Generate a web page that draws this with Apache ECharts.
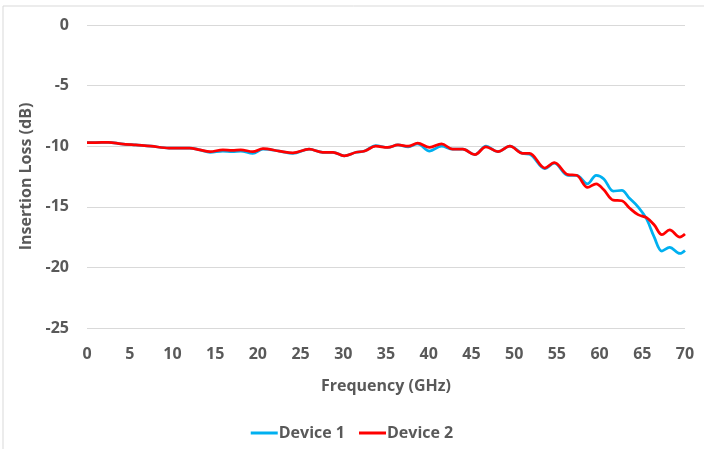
<!DOCTYPE html>
<html>
<head>
<meta charset="utf-8">
<script src="https://cdn.jsdelivr.net/npm/echarts@6/dist/echarts.min.js"></script>
<style>html,body{margin:0;padding:0;background:#fff;}#c{width:704px;height:449px;}</style>
</head>
<body>
<div id="c"></div>
<script>
const freq = [0,1,2.5,4,5.7,7.5,9.6,12,13.2,14.4,15.9,17,18,19.4,20.6,22.5,24.1,26,27.6,28.8,30.1,31.5,32.5,33.8,35.2,36.4,37.6,38.7,40.1,41.5,42.8,44,45.4,46.7,48.1,49.5,51,51.8,53.6,54.7,56.3,57.3,58.6,59.6,60.5,61.6,62.6,63.5,64.5,65.5,66.4,67.3,68.2,69.4,70];
const device1 = [-9.7,-9.7,-9.68,-9.8,-9.9,-10.0,-10.15,-10.15,-10.3,-10.5,-10.4,-10.45,-10.4,-10.6,-10.25,-10.4,-10.6,-10.25,-10.5,-10.5,-10.8,-10.5,-10.4,-9.95,-10.1,-9.9,-10.05,-9.8,-10.4,-10.0,-10.25,-10.25,-10.7,-10.0,-10.45,-10.0,-10.6,-10.65,-11.85,-11.4,-12.4,-12.4,-13.1,-12.4,-12.7,-13.7,-13.65,-14.3,-15.0,-16.0,-17.5,-18.65,-18.35,-18.85,-18.6];
const device2 = [-9.7,-9.7,-9.68,-9.8,-9.9,-10.0,-10.15,-10.15,-10.3,-10.45,-10.3,-10.35,-10.3,-10.45,-10.2,-10.4,-10.55,-10.25,-10.5,-10.5,-10.8,-10.5,-10.4,-10.0,-10.1,-9.9,-10.0,-9.75,-10.1,-9.8,-10.25,-10.25,-10.7,-10.05,-10.45,-10.0,-10.6,-10.6,-11.8,-11.35,-12.35,-12.4,-13.4,-13.1,-13.6,-14.45,-14.5,-15.1,-15.65,-15.9,-16.5,-17.3,-16.9,-17.5,-17.25];
const seriesNames = ['Device 1','Device 2'];
const xTitle = 'Frequency (GHz)';
const yTitle = 'Insertion Loss (dB)';

const font = '"Open Sans", sans-serif';
const txt = {color:'#595959', fontWeight:'bold', fontSize:16, fontFamily:font};
const chart = echarts.init(document.getElementById('c'));
const pairs = a => freq.map((f,i)=>[f,a[i]]);
chart.setOption({
  animation:false,
  grid:{left:87, right:19, top:25, bottom:121},
  graphic:[
    {type:'line', shape:{x1:3,y1:6,x2:704,y2:6}, style:{stroke:'#d9d9d9', lineWidth:1}},
    {type:'line', shape:{x1:3,y1:6,x2:3,y2:449}, style:{stroke:'#d9d9d9', lineWidth:1}}
  ],
  legend:{bottom:3, left:'center', itemWidth:27, itemHeight:3, itemGap:14, icon:'rect',
    textStyle:Object.assign({}, txt, {padding:[0,0,0,-4]}), data:seriesNames},
  xAxis:{type:'value', min:0, max:70, interval:5,
    name:xTitle, nameLocation:'middle', nameGap:50, nameTextStyle:txt,
    axisLine:{show:false}, axisTick:{show:false}, splitLine:{show:false},
    axisLabel:Object.assign({margin:18}, txt)},
  yAxis:{type:'value', min:-25, max:0, interval:5,
    name:yTitle, nameLocation:'middle', nameGap:50, nameTextStyle:txt,
    axisLine:{show:false}, axisTick:{show:false},
    splitLine:{lineStyle:{color:'#d9d9d9', width:1}},
    axisLabel:Object.assign({margin:18}, txt)},
  series:[
    {name:seriesNames[0], type:'line', data:pairs(device1), smooth:0.35, symbol:'none',
      lineStyle:{color:'#00b0f0', width:2.75}, itemStyle:{color:'#00b0f0'}},
    {name:seriesNames[1], type:'line', data:pairs(device2), smooth:0.35, symbol:'none',
      lineStyle:{color:'#ff0000', width:2.75}, itemStyle:{color:'#ff0000'}}
  ]
});
</script>
</body>
</html>
